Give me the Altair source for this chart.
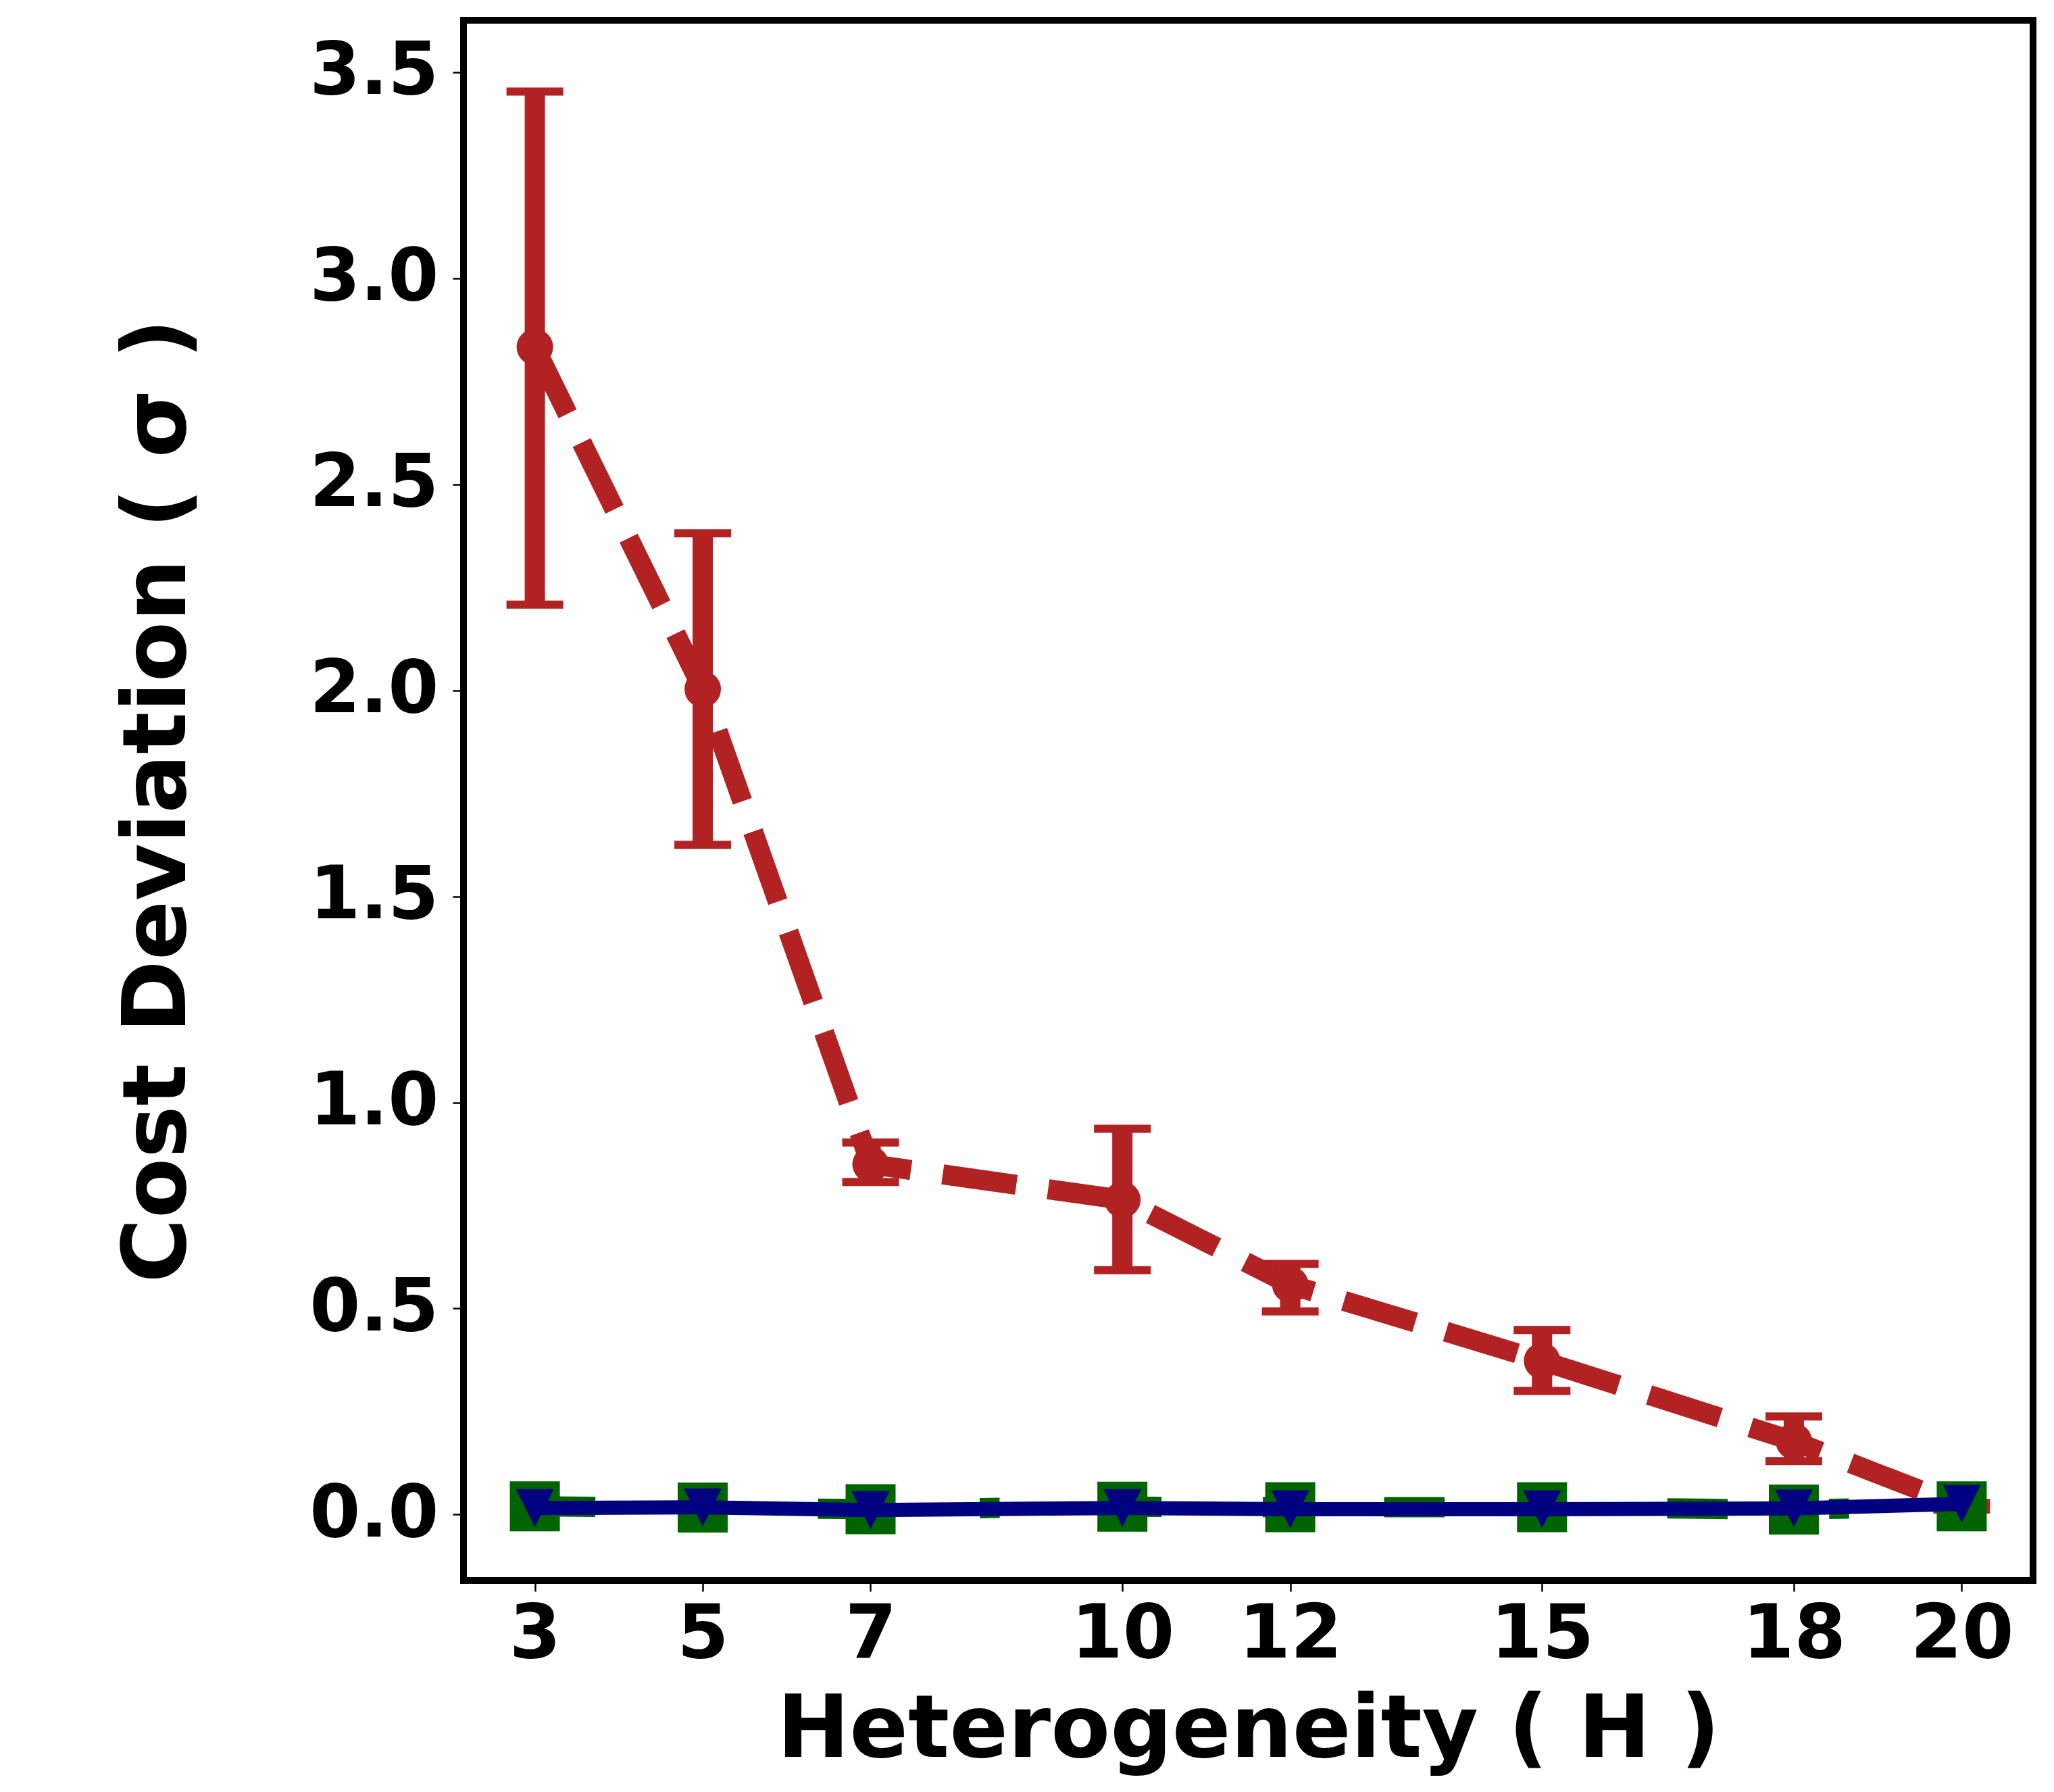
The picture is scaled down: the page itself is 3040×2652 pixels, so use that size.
import altair as alt
import pandas as pd

# Data
H = [3, 5, 7, 10, 12, 15, 18, 20]
red_mean = [2.833, 2.003, 0.850, 0.764, 0.558, 0.373, 0.178, 0.020]
red_lo = [2.208, 1.625, 0.807, 0.593, 0.493, 0.300, 0.130, 0.012]
red_hi = [3.453, 2.381, 0.903, 0.936, 0.608, 0.448, 0.238, 0.028]
green_vals = [0.020, 0.017, 0.013, 0.019, 0.018, 0.018, 0.012, 0.020]
blue_vals = [0.016, 0.0175, 0.011, 0.016, 0.013, 0.013, 0.015, 0.026]

x_ticks = [3, 5, 7, 10, 12, 15, 18, 20]
y_ticks = [0.0, 0.5, 1.0, 1.5, 2.0, 2.5, 3.0, 3.5]
x_domain = [2.15, 20.85]
y_domain = [-0.160, 3.626]

RED = "#b22222"
GREEN = "#006400"
BLUE = "#000080"
FONT = "DejaVu Sans"

red_df = pd.DataFrame({"H": H, "v": red_mean, "lo": red_lo, "hi": red_hi})
green_df = pd.DataFrame({"H": H, "v": green_vals})
blue_df = pd.DataFrame({"H": H, "v": blue_vals})

xscale = alt.Scale(domain=x_domain, nice=False, zero=False)
yscale = alt.Scale(domain=y_domain, nice=False, zero=False)

xaxis = alt.Axis(
    values=x_ticks, format="d", title="Heterogeneity ( H )",
    labelFont=FONT, labelFontSize=110, labelFontWeight="bold", labelColor="black",
    titleFont=FONT, titleFontSize=128, titleFontWeight="bold", titleColor="black",
    tickColor="black", tickWidth=2.5, tickSize=16, labelPadding=10, titlePadding=24,
    domain=False, grid=False, labelFlush=False, labelOverlap=False, labelLimit=1000,
    titleLimit=3000,
)
yaxis = alt.Axis(
    values=y_ticks, format=".1f", title="Cost Deviation ( σ )",
    labelFont=FONT, labelFontSize=108, labelFontWeight="bold", labelColor="black",
    titleFont=FONT, titleFontSize=130, titleFontWeight="bold", titleColor="black",
    tickColor="black", tickWidth=2.5, tickSize=16, labelPadding=21, titlePadding=186,
    domain=False, grid=False, labelFlush=False, labelOverlap=False, labelLimit=1000,
    titleLimit=3000,
)

X = alt.X("H:Q", scale=xscale, axis=xaxis)
Y = alt.Y("v:Q", scale=yscale, axis=yaxis)
Xn = alt.X("H:Q", scale=xscale)

err = alt.Chart(red_df).mark_rule(color=RED, strokeWidth=30, opacity=1).encode(
    x=X, y=alt.Y("lo:Q", scale=yscale, axis=yaxis), y2="hi:Q"
)
cap_lo = alt.Chart(red_df).mark_tick(
    color=RED, orient="horizontal", size=84, thickness=12, opacity=1
).encode(x=Xn, y=alt.Y("lo:Q", scale=yscale))
cap_hi = alt.Chart(red_df).mark_tick(
    color=RED, orient="horizontal", size=84, thickness=12, opacity=1
).encode(x=Xn, y=alt.Y("hi:Q", scale=yscale))
red_line = alt.Chart(red_df).mark_line(color=RED, strokeWidth=29.7, strokeDash=[110, 47.5]).encode(
    x=X, y=Y
)
red_pts = alt.Chart(red_df).mark_point(
    color=RED, filled=True, opacity=1, size=2916, shape="circle"
).encode(x=X, y=Y)

green_line = alt.Chart(green_df).mark_line(
    color=GREEN, strokeWidth=30, strokeDash=[89.5, 150, 29.5, 150]
).encode(x=X, y=Y)
green_pts = alt.Chart(green_df).mark_point(
    color=GREEN, filled=True, opacity=1, size=5476, shape="square"
).encode(x=X, y=Y)

blue_line = alt.Chart(blue_df).mark_line(color=BLUE, strokeWidth=21).encode(x=X, y=Y)
blue_pts = alt.Chart(blue_df).mark_point(
    color=BLUE, filled=True, opacity=1, size=3136, shape="M-1,-1L1,-1L0,1Z"
).encode(x=X, y=Y)

chart = alt.layer(
    err, cap_lo, cap_hi, red_line, red_pts, green_line, green_pts, blue_line, blue_pts
).properties(
    width=2323, height=2309,
    autosize=alt.AutoSizeParams(type="none"),
    padding={"left": 678, "top": 22, "right": 23, "bottom": 305},
    background="white",
).configure_view(
    stroke="black", strokeWidth=10
)

chart.save("out.html", embed_options={"renderer": "svg", "actions": False})
